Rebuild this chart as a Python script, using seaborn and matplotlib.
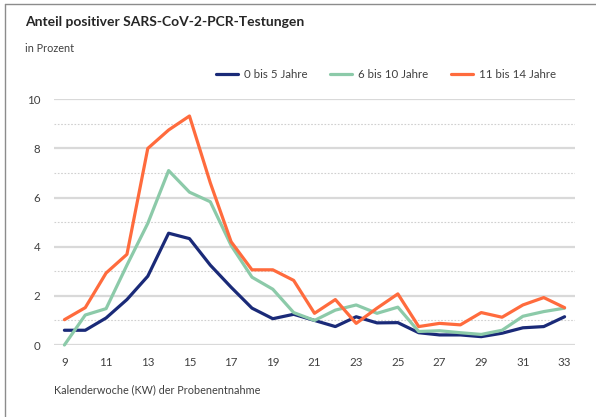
import matplotlib
matplotlib.use("Agg")
import matplotlib.pyplot as plt
import seaborn as sns
import pandas as pd
from matplotlib.lines import Line2D

weeks = list(range(9, 34))
age_0_5 = [0.6, 0.6, 1.1, 1.85, 2.8, 4.55, 4.33, 3.25, 2.35, 1.5, 1.07, 1.25, 1.0, 0.75, 1.15,
           0.9, 0.91, 0.5, 0.41, 0.41, 0.34, 0.48, 0.7, 0.75, 1.15]
age_6_10 = [0.0, 1.22, 1.48, 3.25, 4.95, 7.1, 6.22, 5.83, 4.05, 2.76, 2.27, 1.32, 1.0, 1.42, 1.63,
            1.29, 1.54, 0.55, 0.58, 0.5, 0.43, 0.6, 1.17, 1.36, 1.5]
age_11_14 = [1.03, 1.52, 2.93, 3.69, 8.0, 8.75, 9.32, 6.6, 4.2, 3.06, 3.06, 2.63, 1.29, 1.85, 0.88,
             1.5, 2.08, 0.75, 0.88, 0.82, 1.32, 1.13, 1.63, 1.93, 1.52]
series_names = ["0 bis 5 Jahre", "6 bis 10 Jahre", "11 bis 14 Jahre"]
colors = ["#1a2a78", "#8ccaa9", "#ff6b3d"]
title = "Anteil positiver SARS-CoV-2-PCR-Testungen"
unit = "in Prozent"
xlabel = "Kalenderwoche (KW) der Probenentnahme"
xticks = list(range(9, 34, 2))
yticks = [0, 2, 4, 6, 8, 10]

df = pd.DataFrame({
    "KW": weeks * 3,
    "Wert": age_0_5 + age_6_10 + age_11_14,
    "Gruppe": [series_names[0]] * len(weeks) + [series_names[1]] * len(weeks) + [series_names[2]] * len(weeks),
})

sns.set_theme(style="white")
plt.rcParams["font.family"] = ["Lato", "DejaVu Sans"]

fig = plt.figure(figsize=(5.96, 4.17), dpi=100)
ax = fig.add_axes([54 / 596, 1 - 345 / 417, 521 / 596, (345 - 99.3) / 417])

# grid
for v in range(0, 11):
    if v % 2 == 0:
        ax.axhline(v, color="#d9d9d9", lw=1.6, zorder=0)
    else:
        ax.axhline(v, color="#d0d0d0", lw=0.8, ls=(0, (1.5, 1.5)), zorder=0)

sns.lineplot(data=df, x="KW", y="Wert", hue="Gruppe", palette=colors, hue_order=series_names,
             linewidth=2.3, ax=ax, legend=False, clip_on=False)

ax.set_xlim(8.5, 33.5)
ax.set_ylim(0, 10)
ax.set_xticks(xticks)
ax.set_yticks(yticks)
ax.set_xticklabels([str(t) for t in xticks])
ax.set_yticklabels([str(t) for t in yticks])
ax.tick_params(axis="both", length=0, labelsize=8.3, colors="#404040", pad=9)
ax.tick_params(axis="y", pad=10)
for s in ax.spines.values():
    s.set_visible(False)
ax.set_xlabel("")
ax.set_ylabel("")

fig.text(25 / 596, 1 - 22 / 417, title, fontsize=10, fontweight="bold", color="#262626", va="center")
fig.text(25 / 596, 1 - 48 / 417, unit, fontsize=7.8, color="#404040", va="center")
fig.text(54 / 596, 1 - 390 / 417, xlabel, fontsize=7.8, color="#404040", va="center")

handles = [Line2D([0], [0], color=c, lw=2.3) for c in colors]
fig.legend(handles, series_names, loc="center", bbox_to_anchor=(386 / 596, 1 - 75 / 417), ncol=3,
           frameon=False, fontsize=8.3, handlelength=1.9, handletextpad=0.5, columnspacing=2.0,
           labelcolor="#404040")

# outer frame (top and left visible)
fig.add_artist(Line2D([5 / 596, 5 / 596], [0, 1 - 4 / 417], transform=fig.transFigure, color="#8c8c8c", lw=1))
fig.add_artist(Line2D([5 / 596, 1], [1 - 4 / 417, 1 - 4 / 417], transform=fig.transFigure, color="#8c8c8c", lw=1))

fig.savefig("out.png", dpi=100)
